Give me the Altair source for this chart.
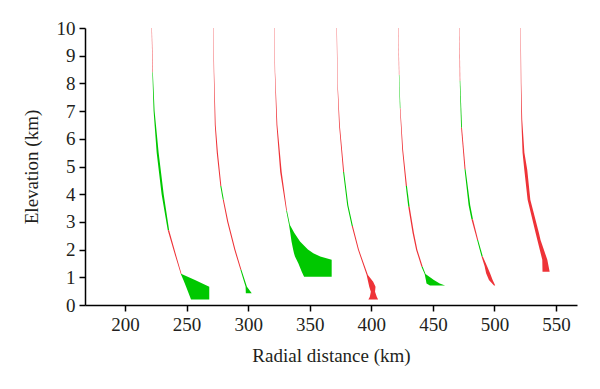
import altair as alt
import pandas as pd

# ---- data (elevation km, left / right edge km, colour of each interval) ----
s1_elev  = [10.0, 8.4, 7.0, 5.5, 4.0, 2.7, 1.9, 1.12, 0.9, 0.66, 0.2]
s1_left  = [221.6, 222.2, 223.2, 225.7, 229.7, 234.7, 239.9, 245.3, 247.4, 249.6, 253.6]
s1_right = [221.85, 222.6, 224.0, 227.3, 231.4, 235.8, 240.8, 245.9, 256.8, 268.4, 268.4]
s1_kind  = ["r", "g", "g", "g", "g", "r", "r", "g", "g", "g"]

s2_elev  = [10.0, 8.4, 6.5, 5.5, 4.3, 3.8, 3.0, 2.0, 1.27, 0.66, 0.42]
s2_left  = [271.6, 272.05, 272.9, 274.5, 277.4, 279.4, 283.0, 288.7, 293.7, 297.9, 298.1]
s2_right = [271.85, 272.4, 273.6, 275.4, 278.2, 280.2, 283.9, 289.6, 294.5, 299.0, 302.9]
s2_kind  = ["r", "r", "r", "r", "g", "r", "r", "r", "g", "g"]

s3_elev  = [10.0, 8.4, 6.5, 4.8, 3.4, 2.89, 2.6, 2.29, 2.0, 1.87, 1.75, 1.63, 1.51, 1.2, 1.02]
s3_left  = [321.1, 321.6, 323.0, 326.0, 330.9, 333.2, 334.2, 335.2, 336.5, 337.2, 338.0, 339.3, 340.7, 343.5, 345.4]
s3_right = [321.35, 321.9, 323.7, 327.2, 331.5, 333.9, 337.5, 342.1, 348.5, 352.9, 358.5, 367.8, 367.8, 367.8, 367.8]
s3_kind  = ["r", "r", "r", "r", "g", "g", "g", "g", "g", "g", "g", "g", "g", "g"]

s4_elev  = [10.0, 8.0, 6.5, 4.8, 3.6, 2.85, 2.0, 1.08, 0.84, 0.66, 0.48, 0.3, 0.2]
s4_left  = [371.8, 372.4, 373.8, 377.1, 380.4, 384.1, 389.1, 396.2, 397.4, 398.3, 399.6, 398.8, 397.6]
s4_right = [372.05, 372.7, 374.4, 377.9, 381.3, 385.0, 389.9, 397.2, 401.5, 403.4, 403.0, 404.4, 405.5]
s4_kind  = ["r", "r", "r", "g", "g", "r", "r", "r", "r", "r", "r", "r"]

s5_elev  = [10.0, 8.3, 7.1, 5.6, 4.3, 3.55, 2.6, 1.99, 1.38, 1.12, 0.9, 0.78, 0.70]
s5_left  = [421.9, 422.4, 423.2, 425.1, 428.0, 430.0, 433.5, 436.4, 440.7, 443.3, 444.3, 444.8, 447.6]
s5_right = [422.15, 422.7, 423.6, 425.8, 428.9, 431.1, 434.6, 437.4, 441.7, 444.0, 450.8, 455.5, 459.9]
s5_kind  = ["r", "g", "r", "r", "g", "r", "r", "r", "g", "g", "g", "g"]

s6_elev  = [10.0, 8.1, 6.4, 4.9, 3.6, 3.1, 2.35, 1.75, 1.4, 1.15, 0.9, 0.7]
s6_left  = [471.5, 471.8, 472.9, 475.7, 479.0, 481.3, 485.9, 489.5, 492.0, 493.2, 495.5, 499.6]
s6_right = [471.75, 472.2, 473.6, 476.5, 480.3, 482.5, 486.7, 490.5, 494.0, 496.4, 498.5, 500.6]
s6_kind  = ["r", "g", "r", "g", "g", "r", "g", "r", "r", "r", "r"]

s7_elev  = [10.0, 8.0, 6.7, 5.5, 4.88, 3.8, 2.6, 2.35, 1.63, 1.2]
s7_left  = [521.1, 521.4, 521.8, 522.8, 524.2, 526.9, 533.4, 534.8, 538.8, 539.0]
s7_right = [521.35, 521.8, 522.5, 524.3, 526.6, 529.1, 536.1, 537.4, 542.9, 544.8]
s7_kind  = ["r", "r", "r", "r", "r", "r", "r", "r", "r"]

x_ticks = [200, 250, 300, 350, 400, 450, 500, 550]
y_ticks = [0, 1, 2, 3, 4, 5, 6, 7, 8, 9, 10]

streaks = [
    (s1_elev, s1_left, s1_right, s1_kind),
    (s2_elev, s2_left, s2_right, s2_kind),
    (s3_elev, s3_left, s3_right, s3_kind),
    (s4_elev, s4_left, s4_right, s4_kind),
    (s5_elev, s5_left, s5_right, s5_kind),
    (s6_elev, s6_left, s6_right, s6_kind),
    (s7_elev, s7_left, s7_right, s7_kind),
]

# one area per run of equally coloured intervals
rows = []
seg = 0
for e, l, r, k in streaks:
    i = 0
    while i < len(k):
        j = i
        while j + 1 < len(k) and k[j + 1] == k[i]:
            j += 1
        for p in range(i, j + 2):
            rows.append({"seg": f"s{seg}", "elev": e[p], "left": l[p], "right": r[p], "kind": k[i]})
        seg += 1
        i = j + 1
df = pd.DataFrame(rows)

FONT = "Liberation Serif"
TXT = "#231f20"

chart = alt.Chart(df).mark_area(orient="horizontal").encode(
    y=alt.Y("elev:Q",
            scale=alt.Scale(domain=[0, 10], nice=False),
            axis=alt.Axis(values=y_ticks, title="Elevation (km)", titlePadding=15)),
    x=alt.X("left:Q",
            stack=None,
            scale=alt.Scale(domain=[167.5, 567], nice=False, zero=False),
            axis=alt.Axis(values=x_ticks, title="Radial distance (km)", titlePadding=12)),
    x2="right:Q",
    color=alt.Color("kind:N",
                    scale=alt.Scale(domain=["g", "r"], range=["#00c800", "#ee3338"]),
                    legend=None),
    detail="seg:N",
).properties(
    width=492,
    height=277,
    autosize=alt.AutoSizeParams(type="none"),
    padding={"left": 77, "top": 20, "right": 15, "bottom": 76},
).configure_view(
    strokeWidth=0
).configure_axis(
    grid=False,
    domainColor="black",
    domainWidth=1.5,
    tickColor="black",
    tickWidth=1.5,
    tickSize=6,
    labelFont=FONT,
    labelFontSize=19,
    labelColor=TXT,
    labelPadding=4,
    titleFont=FONT,
    titleFontSize=19,
    titleFontWeight="normal",
    titleColor=TXT,
)

chart.save("out.html", embed_options={"renderer": "svg", "actions": False})
